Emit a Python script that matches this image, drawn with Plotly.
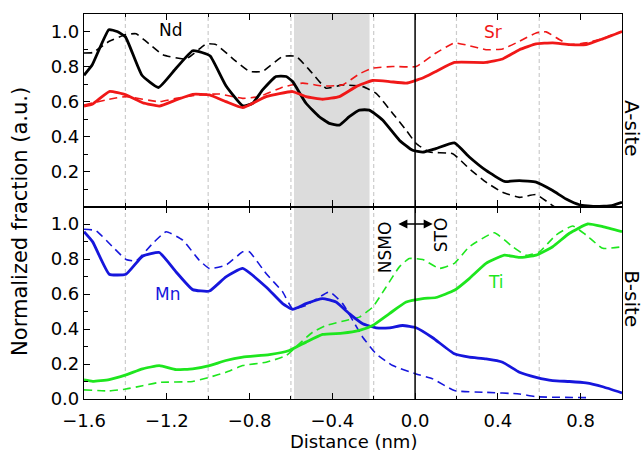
import plotly.graph_objects as go
from plotly.subplots import make_subplots

# ---------------- data ----------------
nd_x = [-1.60, -1.56, -1.48, -1.44, -1.40, -1.32, -1.24, -1.155, -1.075, -1.03, -0.99, -0.914,
        -0.833, -0.785, -0.737, -0.672, -0.623, -0.592, -0.527, -0.463, -0.414, -0.366, -0.318,
        -0.269, -0.221, -0.157, -0.076, -0.012, 0.037, 0.10, 0.19, 0.262, 0.343, 0.432, 0.504,
        0.585, 0.665, 0.73, 0.794, 0.875, 0.95, 1.0]
nd_solid = [0.75, 0.81, 1.01, 1.00, 0.97, 0.75, 0.68, 0.79, 0.89, 0.88, 0.86, 0.69,
            0.575, 0.59, 0.666, 0.743, 0.743, 0.714, 0.59, 0.513, 0.475, 0.465, 0.513,
            0.551, 0.551, 0.494, 0.379, 0.321, 0.311, 0.331, 0.363, 0.283, 0.206, 0.143, 0.148,
            0.139, 0.091, 0.043, 0.01, 0.0, 0.005, 0.024]

ndd_x = [-1.60, -1.558, -1.478, -1.397, -1.348, -1.30, -1.22, -1.107, -1.01, -0.962, -0.865,
         -0.801, -0.737, -0.64, -0.575, -0.511, -0.43, -0.35, -0.253, -0.188, -0.108, -0.043,
         0.005, 0.069, 0.182, 0.262, 0.343, 0.423, 0.504, 0.585, 0.665, 0.70]
nd_dash = [0.877, 0.88, 0.944, 0.983, 0.987, 0.944, 0.868, 0.843, 0.929, 0.925, 0.829,
           0.772, 0.772, 0.858, 0.858, 0.781, 0.676, 0.695, 0.685, 0.647, 0.532, 0.436,
           0.36, 0.311, 0.302, 0.216, 0.139, 0.081, 0.052, 0.068, 0.005, -0.02]

sr_x = [-1.60, -1.558, -1.478, -1.397, -1.317, -1.236, -1.155, -1.075, -0.994, -0.914, -0.833,
        -0.72, -0.592, -0.527, -0.447, -0.366, -0.285, -0.205, -0.124, -0.043, 0.037, 0.101,
        0.19, 0.343, 0.423, 0.504, 0.585, 0.665, 0.746, 0.826, 0.907, 1.0]
sr_solid = [0.574, 0.586, 0.657, 0.638, 0.593, 0.574, 0.609, 0.641, 0.638, 0.599, 0.565,
            0.628, 0.657, 0.628, 0.613, 0.628, 0.685, 0.72, 0.714, 0.705, 0.734, 0.772,
            0.823, 0.823, 0.843, 0.896, 0.929, 0.935, 0.925, 0.925, 0.958, 1.0]

srd_x = [-1.60, -1.478, -1.397, -1.236, -1.155, -1.043, -0.946, -0.833, -0.753, -0.64, -0.543,
         -0.447, -0.35, -0.269, -0.205, -0.108, 0.005, 0.101, 0.19, 0.262, 0.343, 0.423, 0.504,
         0.585, 0.633, 0.697, 0.746, 0.826, 0.907, 1.0]
sr_dash = [0.58, 0.613, 0.628, 0.599, 0.618, 0.638, 0.643, 0.618, 0.628, 0.682, 0.705,
           0.689, 0.695, 0.758, 0.791, 0.80, 0.80, 0.877, 0.935, 0.919, 0.896, 0.90, 0.944,
           0.992, 0.998, 0.954, 0.925, 0.935, 0.96, 1.0]

mn_x = [-1.60, -1.558, -1.478, -1.397, -1.317, -1.236, -1.155, -1.075, -0.994, -0.914, -0.833,
        -0.72, -0.64, -0.592, -0.527, -0.447, -0.382, -0.318, -0.253, -0.188, -0.124, -0.06,
        0.005, 0.085, 0.19, 0.262, 0.343, 0.423, 0.504, 0.585, 0.665, 0.746, 0.826, 0.907, 1.0]
mn_solid = [0.956, 0.898, 0.713, 0.713, 0.816, 0.837, 0.726, 0.625, 0.617, 0.698, 0.746,
            0.64, 0.545, 0.512, 0.545, 0.574, 0.554, 0.488, 0.43, 0.407, 0.407, 0.42,
            0.407, 0.35, 0.258, 0.239, 0.229, 0.21, 0.153, 0.124, 0.105, 0.10, 0.092, 0.07, 0.035]

mnd_x = [-1.60, -1.542, -1.462, -1.397, -1.348, -1.268, -1.203, -1.123, -1.043, -0.994, -0.914,
         -0.833, -0.801, -0.72, -0.64, -0.592, -0.527, -0.414, -0.35, -0.301, -0.253, -0.188,
         -0.108, 0.005, 0.085, 0.19, 0.343, 0.504, 0.585, 0.826]
mn_dash = [0.97, 0.962, 0.87, 0.797, 0.79, 0.889, 0.956, 0.908, 0.793, 0.746, 0.765,
           0.841, 0.841, 0.717, 0.612, 0.516, 0.535, 0.612, 0.545, 0.449, 0.353, 0.258,
           0.191, 0.143, 0.115, 0.048, 0.038, 0.029, 0.013, 0.008]

ti_x = [-1.60, -1.558, -1.478, -1.397, -1.317, -1.236, -1.155, -1.075, -0.994, -0.914, -0.833,
        -0.704, -0.608, -0.527, -0.447, -0.35, -0.269, -0.205, -0.124, -0.043, 0.037, 0.101,
        0.19, 0.262, 0.343, 0.432, 0.504, 0.585, 0.665, 0.746, 0.834, 0.907, 1.0]
ti_solid = [0.109, 0.101, 0.111, 0.138, 0.172, 0.191, 0.168, 0.172, 0.191, 0.22, 0.239,
            0.254, 0.277, 0.325, 0.369, 0.376, 0.392, 0.42, 0.488, 0.554, 0.574, 0.58,
            0.621, 0.688, 0.775, 0.822, 0.809, 0.822, 0.87, 0.947, 1.0, 0.985, 0.956]

tid_x = [-1.60, -1.478, -1.397, -1.317, -1.236, -1.075, -0.994, -0.914, -0.833, -0.72, -0.623,
         -0.56, -0.495, -0.43, -0.334, -0.269, -0.205, -0.14, -0.076, -0.028, 0.037, 0.117,
         0.19, 0.262, 0.383, 0.472, 0.536, 0.601, 0.681, 0.762, 0.826, 0.907, 1.0]
ti_dash = [0.052, 0.046, 0.057, 0.076, 0.095, 0.10, 0.124, 0.153, 0.191, 0.21, 0.248,
           0.315, 0.382, 0.42, 0.449, 0.468, 0.525, 0.64, 0.755, 0.803, 0.797, 0.746,
           0.775, 0.87, 0.95, 0.87, 0.822, 0.841, 0.937, 0.989, 0.937, 0.861, 0.87]

x_major = [-1.6, -1.2, -0.8, -0.4, 0.0, 0.4, 0.8]
x_labels = ["\u22121.6", "\u22121.2", "\u22120.8", "\u22120.4", "0.0", "0.4", "0.8"]
x_minor = [-1.4, -1.0, -0.6, -0.2, 0.2, 0.6, 1.0]
y_top_major = [0.2, 0.4, 0.6, 0.8, 1.0]
y_bot_major = [0.0, 0.2, 0.4, 0.6, 0.8, 1.0]
y_minor = [0.1, 0.3, 0.5, 0.7, 0.9]
guide_x = [-1.4, -1.0, -0.6, -0.2, 0.2, 0.6]
interface_band = [-0.585, -0.22]
interface_x = 0.0

RED = "#f01818"
BLUE = "#1616dc"
GREEN = "#1ee61e"
FONT = "DejaVu Sans, Liberation Sans, sans-serif"
DASH = "8px,5px"

fig = make_subplots(rows=2, cols=1, shared_xaxes=True, vertical_spacing=0)

def add(x, y, color, dash, width, row):
    fig.add_trace(go.Scatter(x=x, y=y, mode="lines", showlegend=False,
                             line=dict(color=color, width=width, dash=dash, shape="spline", smoothing=0.4)),
                  row=row, col=1)

add(ndd_x, nd_dash, "black", DASH, 1.6, 1)
add(srd_x, sr_dash, RED, DASH, 1.6, 1)
add(nd_x, nd_solid, "black", "solid", 2.8, 1)
add(sr_x, sr_solid, RED, "solid", 2.8, 1)

add(mnd_x, mn_dash, BLUE, DASH, 1.6, 2)
add(tid_x, ti_dash, GREEN, DASH, 1.6, 2)
add(mn_x, mn_solid, BLUE, "solid", 2.8, 2)
add(ti_x, ti_solid, GREEN, "solid", 2.8, 2)

# shapes: shaded band, guides, interface line
fig.add_shape(type="rect", xref="x", yref="paper", x0=interface_band[0], x1=interface_band[1],
              y0=0, y1=1, fillcolor="#dcdcdc", line=dict(width=0), layer="below")
for gx in guide_x:
    fig.add_shape(type="line", xref="x", yref="paper", x0=gx, x1=gx, y0=0, y1=1,
                  line=dict(color="#cccccc", width=1.2, dash="4px,3px"), layer="below")
fig.add_shape(type="line", xref="x", yref="paper", x0=interface_x, x1=interface_x, y0=0, y1=1,
              line=dict(color="black", width=1.5), layer="above")

axis_common = dict(showline=True, linecolor="black", linewidth=1.2, showgrid=False, zeroline=False,
                   tickcolor="black", tickwidth=1.2,
                   tickfont=dict(family=FONT, size=18, color="black"))

for ax in ["xaxis", "xaxis2"]:
    fig.update_layout({ax: dict(range=[-1.6, 1.0], tickmode="array", tickvals=x_major,
                                ticktext=x_labels, ticks="inside", ticklen=6, mirror="ticks",
                                minor=dict(tickmode="array", tickvals=x_minor, ticks="inside",
                                           ticklen=3, tickcolor="black", tickwidth=1.2),
                                **axis_common)})
fig.update_layout(xaxis=dict(showticklabels=False), xaxis2=dict(ticklabelstandoff=5))

fig.update_layout(
    yaxis=dict(range=[0, 1.1], tickmode="array", tickvals=y_top_major,
               ticktext=["%.1f" % v for v in y_top_major], ticks="inside", ticklen=6,
               mirror=True, minor=dict(tickmode="array", tickvals=y_minor, ticks="inside", ticklen=4,
                                       tickcolor="black", tickwidth=1.2),
               **axis_common),
    yaxis2=dict(range=[0, 1.1], tickmode="array", tickvals=y_bot_major,
                ticktext=["%.1f" % v for v in y_bot_major], ticks="inside", ticklen=6,
                mirror=True, minor=dict(tickmode="array", tickvals=y_minor, ticks="inside", ticklen=4,
                                        tickcolor="black", tickwidth=1.2),
                **axis_common),
)

ann_font = dict(family=FONT, size=17)
annotations = [
    dict(x=-1.18, y=1.006, xref="x", yref="y", text="Nd", showarrow=False, font=dict(color="black", **ann_font)),
    dict(x=0.375, y=1.0, xref="x", yref="y", text="Sr", showarrow=False, font=dict(color=RED, **ann_font)),
    dict(x=-1.196, y=0.602, xref="x2", yref="y2", text="Mn", showarrow=False, font=dict(color=BLUE, **ann_font)),
    dict(x=0.39, y=0.669, xref="x2", yref="y2", text="Ti", showarrow=False, font=dict(color=GREEN, **ann_font)),
    dict(x=-0.148, y=0.87, xref="x2", yref="y2", text="NSMO", textangle=-90, showarrow=False,
         font=dict(color="black", **ann_font)),
    dict(x=0.126, y=0.937, xref="x2", yref="y2", text="STO", textangle=-90, showarrow=False,
         font=dict(color="black", **ann_font)),
    dict(x=0.085, y=1.0, xref="x2", yref="y2", ax=-0.088, ay=1.0, axref="x2", ayref="y2",
         text="", showarrow=True, arrowside="end+start", arrowhead=2, arrowsize=1.2, arrowwidth=1.5,
         arrowcolor="black"),
    dict(x=0, y=0.46, xref="paper", yref="paper", xanchor="center", yanchor="middle", xshift=-64,
         text="Normalized fraction (a.u.)", textangle=-90, showarrow=False,
         font=dict(family=FONT, size=21, color="black")),
    dict(x=0.5, y=0, xref="paper", yref="paper", xanchor="center", yanchor="middle", yshift=-42,
         text="Distance (nm)", showarrow=False, font=dict(family=FONT, size=18, color="black")),
    dict(x=1, y=0.704, xref="paper", yref="paper", xanchor="center", yanchor="middle", xshift=10,
         text="A-site", textangle=90, showarrow=False, font=dict(family=FONT, size=20, color="black")),
    dict(x=1, y=0.262, xref="paper", yref="paper", xanchor="center", yanchor="middle", xshift=10,
         text="B-site", textangle=90, showarrow=False, font=dict(family=FONT, size=20, color="black")),
]

fig.update_layout(
    width=643, height=458,
    margin=dict(l=84, r=21, t=14, b=59),
    paper_bgcolor="white", plot_bgcolor="white",
    annotations=annotations,
    font=dict(family=FONT),
)

fig.write_html("out.html")
